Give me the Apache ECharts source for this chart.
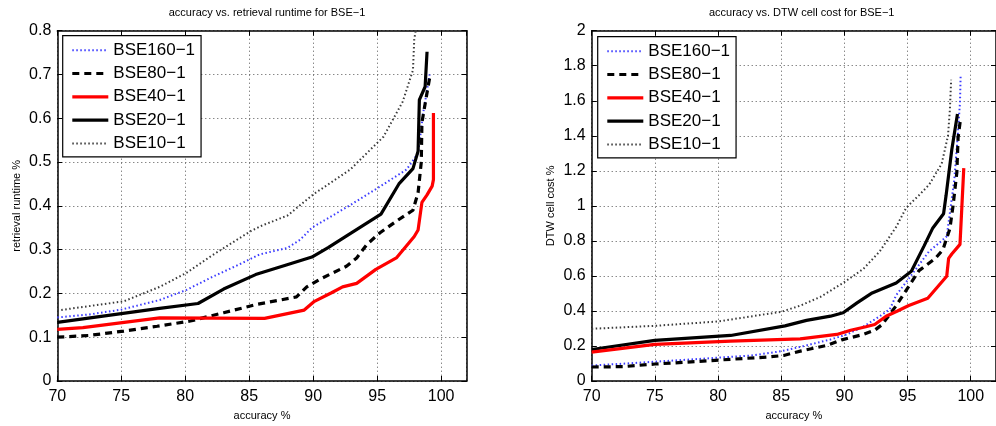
<!DOCTYPE html>
<html>
<head>
<meta charset="utf-8">
<script src="https://cdn.jsdelivr.net/npm/echarts@6/dist/echarts.min.js"></script>
<style>
  html, body { margin: 0; padding: 0; background: #fff; }
  #chart { width: 996px; height: 426px; }
</style>
</head>
<body>
<div id="chart"></div>
<script>
// Legend entries, in drawing order
const seriesNames = ['BSE160\u22121', 'BSE80\u22121', 'BSE40\u22121', 'BSE20\u22121', 'BSE10\u22121'];

// Left panel: [accuracy %, retrieval runtime %]
const runtime160 = [[70,0.145],[72.5,0.152],[75,0.163],[78,0.185],[80.1,0.208],[82,0.236],[84.5,0.27],[85.8,0.289],[88,0.304],[89,0.323],[89.9,0.35],[92.8,0.40],[95,0.44],[97.3,0.483],[98.2,0.52],[98.6,0.612],[99.1,0.70]];
const runtime80 = [[70,0.100],[72.5,0.104],[75.2,0.114],[77.8,0.125],[80.4,0.137],[83,0.156],[85.6,0.175],[88.7,0.192],[89.5,0.215],[90.5,0.232],[92.6,0.262],[93.4,0.281],[94.2,0.312],[95.2,0.338],[96.5,0.365],[97.8,0.39],[98.2,0.43],[98.45,0.50],[98.5,0.59],[98.85,0.65],[99.15,0.70]];
const runtime40 = [[70,0.118],[72,0.122],[78,0.144],[86.2,0.143],[89.3,0.162],[90.1,0.182],[91.4,0.201],[92.3,0.215],[93.4,0.223],[94.9,0.255],[96.5,0.281],[97.9,0.33],[98.2,0.345],[98.5,0.408],[98.9,0.425],[99.3,0.445],[99.4,0.46],[99.4,0.612]];
const runtime20 = [[70,0.134],[75,0.154],[78,0.166],[81,0.177],[83,0.21],[85.5,0.243],[87.9,0.265],[89.9,0.283],[91.2,0.305],[92.8,0.335],[95.3,0.381],[96.7,0.45],[97.8,0.485],[98.2,0.525],[98.3,0.642],[98.75,0.672],[98.9,0.752]];
const runtime10 = [[70,0.161],[75.2,0.182],[78,0.215],[80.1,0.247],[82,0.285],[85.1,0.342],[86,0.355],[88,0.378],[90,0.426],[92.9,0.483],[95.5,0.558],[97,0.638],[97.8,0.71],[97.9,0.78],[98,0.798]];

// Right panel: [accuracy %, DTW cell cost %]
const cost160 = [[70,0.088],[75,0.11],[80,0.133],[82.6,0.145],[85,0.17],[86.8,0.2],[88.9,0.237],[90.2,0.266],[91.5,0.31],[92.8,0.37],[93.6,0.41],[94.1,0.49],[95.1,0.585],[96.7,0.74],[97.7,0.80],[98.1,0.826],[98.35,0.96],[98.7,1.15],[98.95,1.38],[99.15,1.59],[99.2,1.74]];
const cost80 = [[70,0.08],[72.5,0.082],[75,0.097],[78.5,0.112],[81,0.124],[84,0.137],[85.2,0.146],[86.6,0.172],[88.7,0.205],[89.8,0.235],[91.5,0.266],[92.4,0.29],[93,0.323],[94.1,0.43],[95.9,0.63],[97.2,0.70],[97.8,0.75],[98.35,0.87],[98.6,1.0],[98.9,1.19],[99.0,1.39],[99.2,1.5]];
const cost40 = [[70,0.165],[75,0.209],[81,0.228],[86.5,0.241],[89.4,0.266],[90.5,0.29],[91.7,0.31],[92.4,0.323],[93.3,0.37],[94.2,0.40],[95.1,0.431],[96.6,0.472],[98.1,0.598],[98.25,0.70],[98.5,0.725],[99.15,0.78],[99.45,1.215]];
const cost20 = [[70,0.18],[75,0.232],[81,0.26],[85.3,0.315],[87,0.346],[88.9,0.37],[89.9,0.39],[91,0.446],[92.2,0.503],[94.1,0.56],[95.3,0.627],[96.3,0.77],[97,0.874],[97.85,0.955],[98.05,1.06],[98.5,1.32],[98.95,1.525]];
const cost10 = [[70,0.298],[75,0.315],[80,0.34],[85,0.395],[86.5,0.43],[88.1,0.48],[89.9,0.56],[91.5,0.64],[92.8,0.74],[94.1,0.88],[94.9,0.99],[95.9,1.06],[96.7,1.12],[97.7,1.24],[98.2,1.40],[98.35,1.55],[98.45,1.72]];

// Axis ranges
const accuracyRange = { min: 70, max: 102, step: 5 };
const runtimeRange = { min: 0, max: 0.8, step: 0.1 };
const costRange = { min: 0, max: 2, step: 0.2 };

const panelTitles = ['accuracy vs. retrieval runtime for BSE\u22121', 'accuracy vs. DTW cell cost for BSE\u22121'];
const xName = 'accuracy %';
const yNames = ['retrieval runtime %', 'DTW cell cost %'];

const FONT = '"Liberation Sans", Arial, Helvetica, sans-serif';

const lineStyles = [
  { color: '#3c3cff', width: 2, type: [1.5, 2.5] },
  { color: '#000000', width: 3.2, type: [7, 5] },
  { color: '#ff0000', width: 3.2, type: 'solid' },
  { color: '#000000', width: 3.2, type: 'solid' },
  { color: '#3a3a3a', width: 2, type: [1.5, 2.5] }
];

const grids = [
  { left: 57.3, top: 30.7, width: 409.4, height: 351 },
  { left: 591.7, top: 30.7, width: 410, height: 351 }
];

function bottomAxis(g) {
  return {
    type: 'value', gridIndex: g, position: 'bottom',
    min: accuracyRange.min, max: accuracyRange.max, interval: accuracyRange.step,
    name: xName, nameLocation: 'middle', nameGap: 29,
    nameTextStyle: { fontSize: 11, color: '#000', fontFamily: FONT },
    axisLine: { show: true, onZero: false, lineStyle: { color: '#000', width: 1.5 } },
    axisTick: { show: true, inside: true, length: 5, lineStyle: { color: '#000', width: 1 } },
    axisLabel: { fontSize: 16, color: '#000', fontFamily: FONT, margin: 8, showMaxLabel: false,
      formatter: v => (v % accuracyRange.step === 0 ? String(v) : '') },
    splitLine: { show: true, lineStyle: { color: '#555', width: 1, type: [1, 3] } }
  };
}
function topAxis(g) {
  return {
    type: 'value', gridIndex: g, position: 'top',
    min: accuracyRange.min, max: accuracyRange.max, interval: accuracyRange.step,
    axisLine: { show: true, onZero: false, lineStyle: { color: '#000', width: 1.5 } },
    axisTick: { show: true, inside: true, length: 5, lineStyle: { color: '#000', width: 1 } },
    axisLabel: { show: false }, splitLine: { show: false }
  };
}
function leftAxis(g, range, name) {
  return {
    type: 'value', gridIndex: g, position: 'left',
    min: range.min, max: range.max, interval: range.step,
    name: name, nameLocation: 'middle', nameGap: 35,
    nameTextStyle: { fontSize: 11, color: '#000', fontFamily: FONT },
    axisLine: { show: true, onZero: false, lineStyle: { color: '#000', width: 1.5 } },
    axisTick: { show: true, inside: true, length: 5, lineStyle: { color: '#000', width: 1 } },
    axisLabel: { fontSize: 16, color: '#000', fontFamily: FONT, margin: 6 },
    splitLine: { show: true, lineStyle: { color: '#555', width: 1, type: [1, 3] } }
  };
}
function rightAxis(g, range) {
  return {
    type: 'value', gridIndex: g, position: 'right',
    min: range.min, max: range.max, interval: range.step,
    axisLine: { show: true, onZero: false, lineStyle: { color: '#000', width: 1.5 } },
    axisTick: { show: true, inside: true, length: 5, lineStyle: { color: '#000', width: 1 } },
    axisLabel: { show: false }, splitLine: { show: false }
  };
}

const panelData = [
  [runtime160, runtime80, runtime40, runtime20, runtime10],
  [cost160, cost80, cost40, cost20, cost10]
];

const series = [];
panelData.forEach((list, g) => {
  list.forEach((data, i) => {
    series.push({
      type: 'line', name: seriesNames[i],
      xAxisIndex: g * 2, yAxisIndex: g * 2,
      data: data, symbol: 'none', smooth: false, animation: false,
      lineStyle: lineStyles[i], itemStyle: { color: lineStyles[i].color },
      z: 2 + (i === 2 ? 1 : 0)
    });
  });
});

function legendAt(left, top) {
  return {
    orient: 'vertical', left: left, top: top,
    data: seriesNames, selectedMode: false,
    itemWidth: 36, itemHeight: 14, itemGap: 6.3,
    padding: [6, 6, 5, 8],
    backgroundColor: '#fff', borderColor: '#000', borderWidth: 1.2,
    textStyle: { fontSize: 17, color: '#000', fontFamily: FONT },
    // line sample only, no marker
    itemStyle: { color: 'rgba(0,0,0,0)', borderColor: 'rgba(0,0,0,0)', borderWidth: 0 },
    lineStyle: { width: 'inherit' }
  };
}

const option = {
  backgroundColor: '#fff',
  animation: false,
  title: [
    { text: panelTitles[0], left: 262, top: 2, textAlign: 'center',
      textStyle: { fontSize: 11, fontWeight: 'normal', color: '#000', fontFamily: FONT } },
    { text: panelTitles[1], left: 796.7, top: 2, textAlign: 'center',
      textStyle: { fontSize: 11, fontWeight: 'normal', color: '#000', fontFamily: FONT } }
  ],
  grid: grids,
  xAxis: [bottomAxis(0), topAxis(0), bottomAxis(1), topAxis(1)],
  yAxis: [leftAxis(0, runtimeRange, yNames[0]), rightAxis(0, runtimeRange),
          leftAxis(1, costRange, yNames[1]), rightAxis(1, costRange)],
  legend: [legendAt(62.7, 35.7), legendAt(597.7, 36.7)],
  series: series
};

const chart = echarts.init(document.getElementById('chart'), null, { renderer: 'canvas' });
chart.setOption(option);
</script>
</body>
</html>
